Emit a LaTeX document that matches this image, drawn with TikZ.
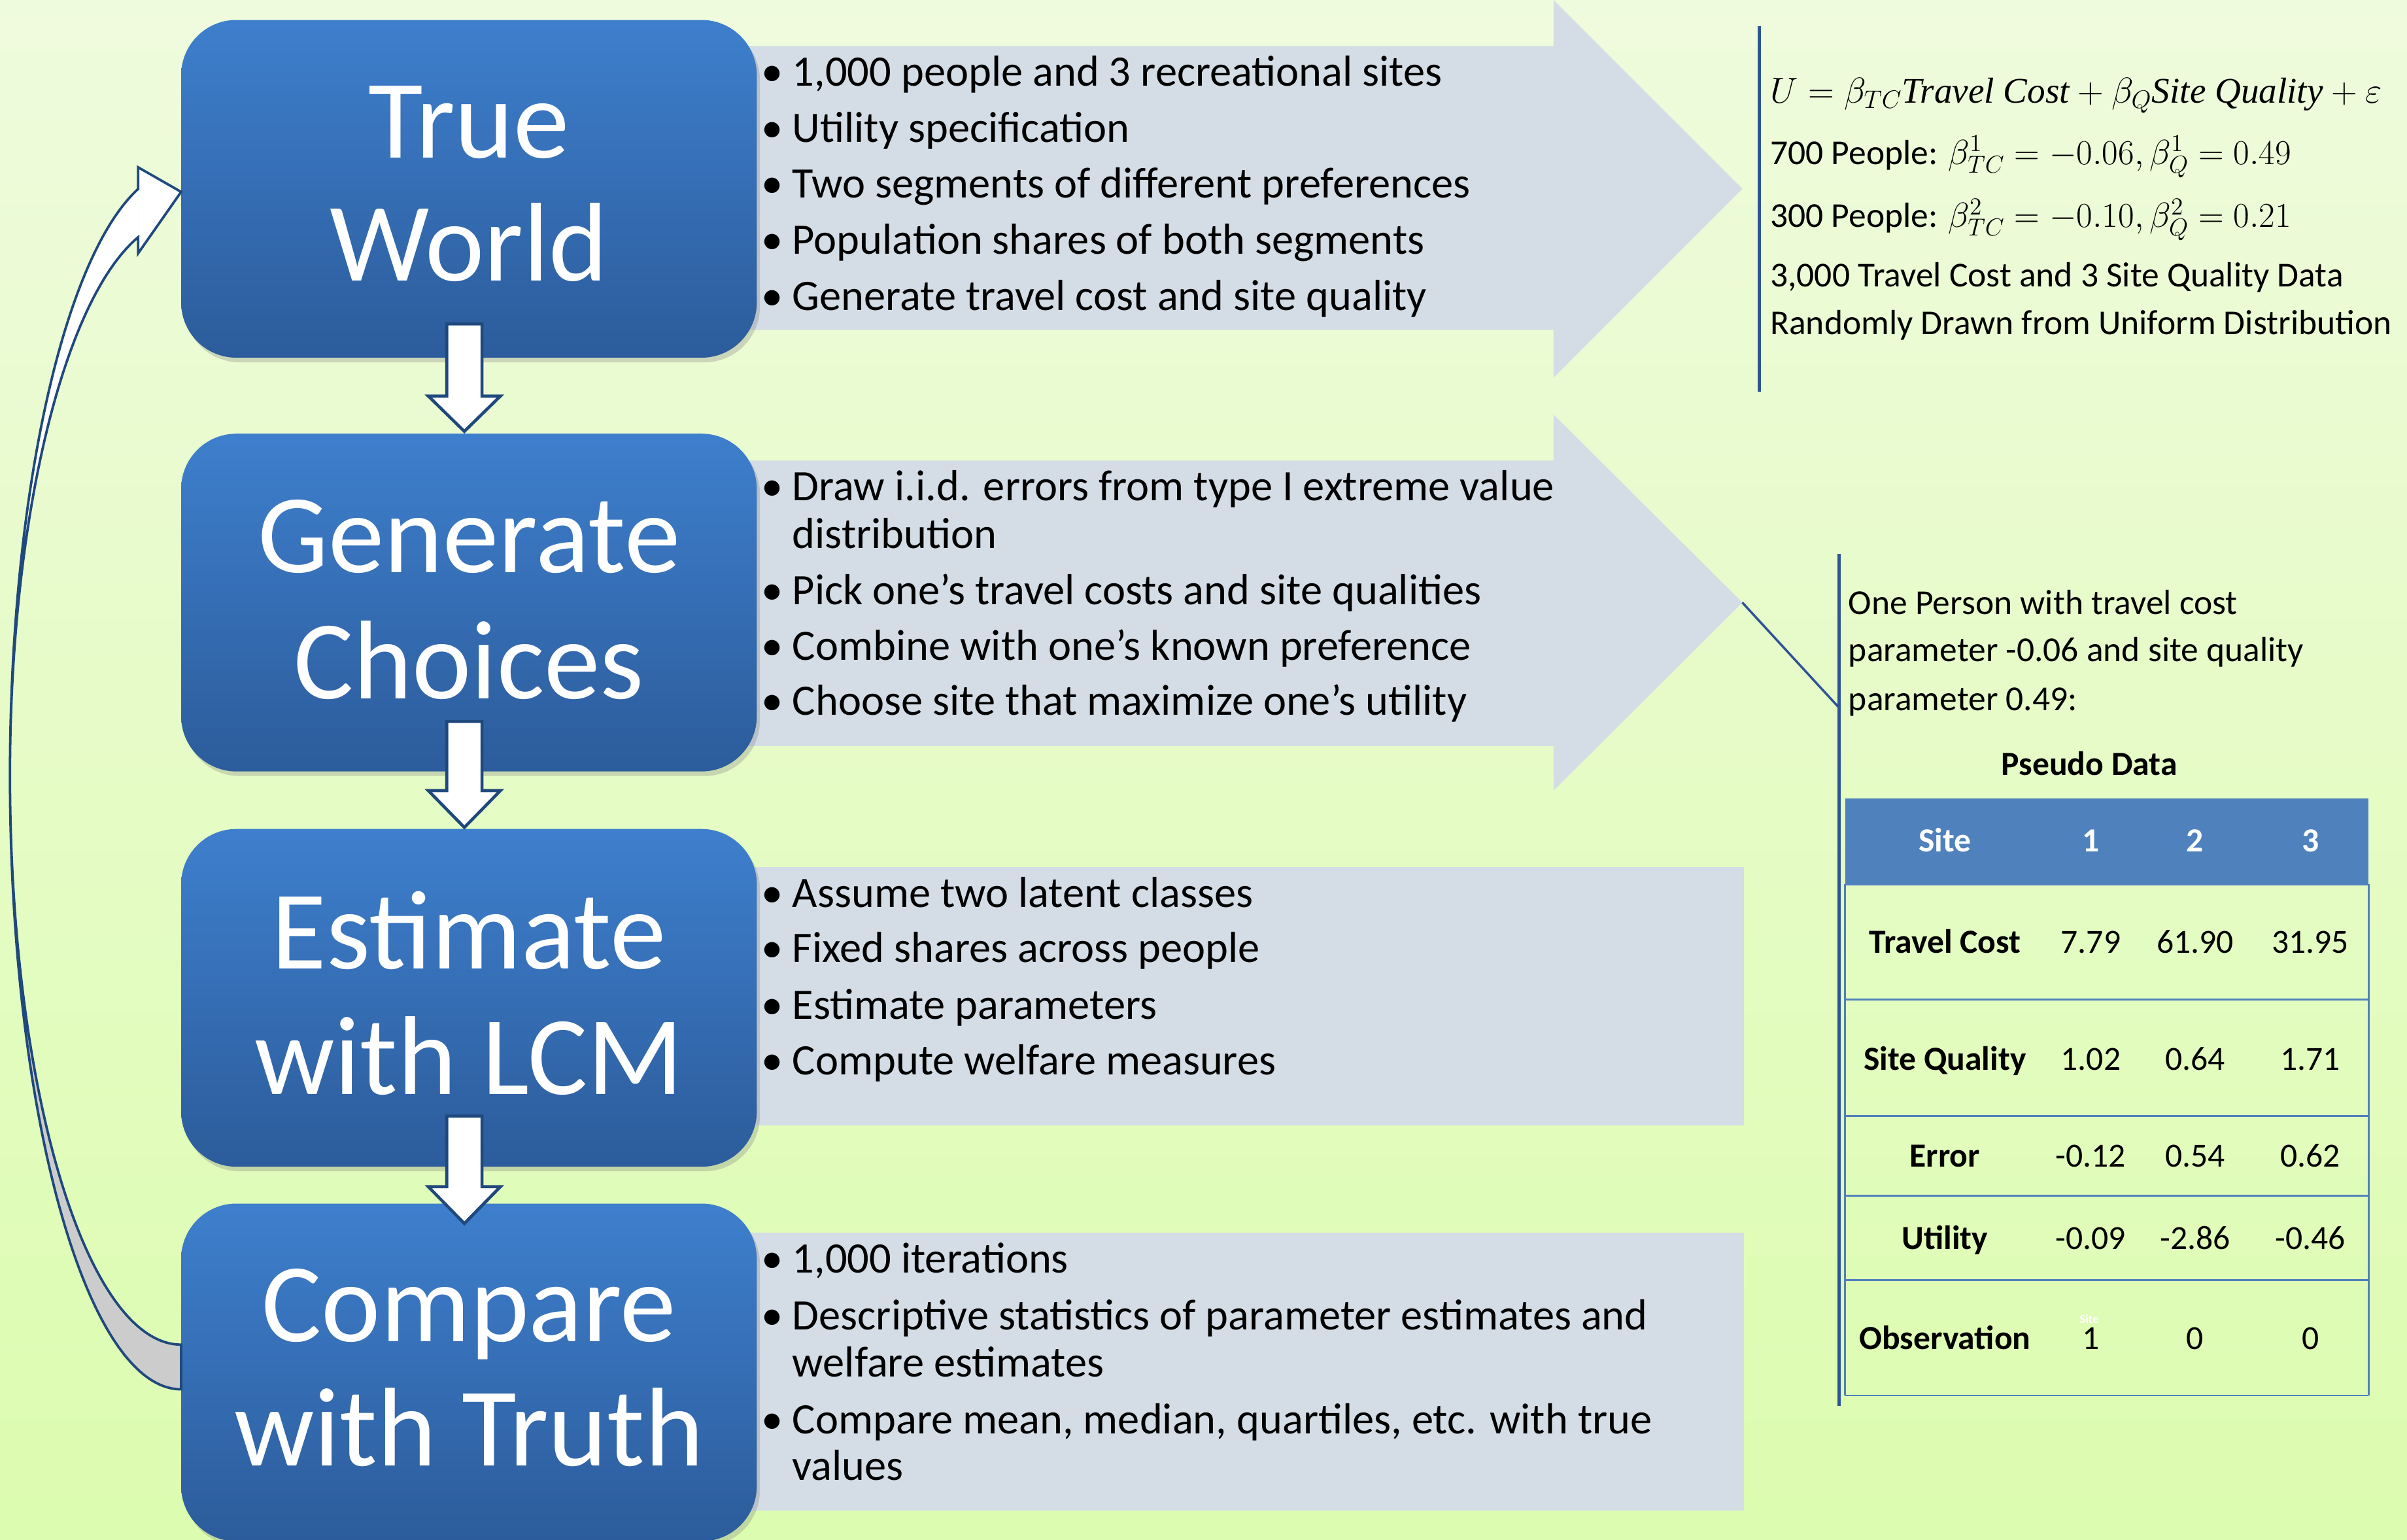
\RequirePackage{fix-cm}
\documentclass[tikz,border=0pt]{standalone}
\usepackage{fontspec}
\setmainfont{Carlito}
\newfontfamily\formulaserif{Liberation Serif}
\usetikzlibrary{shadows}

\definecolor{bgtop}{RGB}{239,251,221}
\definecolor{bgbot}{RGB}{220,252,175}
\definecolor{boxtop}{RGB}{62,127,205}
\definecolor{boxbot}{RGB}{44,92,155}
\definecolor{panel}{RGB}{212,220,229}
\definecolor{edge}{RGB}{31,73,125}
\definecolor{rulecol}{RGB}{46,84,150}
\definecolor{tblue}{RGB}{79,129,189}
\definecolor{ribbon}{RGB}{204,204,204}

% white block arrow pointing down: shaft top, head start, tip
\newcommand\stagearrow[3]{%
  \draw[blockarrow] (291,#1) -- (314,#1) -- (314,#2) -- (326,#2) -- (302.5,#3)
    -- (279,#2) -- (291,#2) -- cycle;}
% italic words inside the utility formula
\newcommand\fword[1]{\mbox{\formulaserif\itshape #1}}

\begin{document}
\begin{tikzpicture}[x=1pt,y=-1pt,
  stage/.style={rectangle, rounded corners=36pt, minimum width=375pt,
    minimum height=220pt, inner sep=0pt, top color=boxtop, bottom color=boxbot,
    drop shadow={shadow xshift=2pt, shadow yshift=-3pt, opacity=0.3}},
  stagetext/.style={text=white, font=\fontsize{73}{80}\selectfont, inner sep=0pt, anchor=base},
  bul/.style={font=\fontsize{28.3}{34}\selectfont, inner sep=0pt, anchor=base west},
  note/.style={font=\fontsize{22.8}{27}\selectfont, inner sep=0pt, anchor=base west},
  cell/.style={font=\fontsize{22}{26}\selectfont, inner sep=0pt, anchor=base},
  bcell/.style={font=\fontsize{22}{26}\selectfont\bfseries, inner sep=0pt, anchor=base},
  hcell/.style={bcell, text=white},
  blockarrow/.style={fill=white, draw=edge, line width=2pt, line join=miter},
  grid/.style={draw=tblue, line width=1.2pt},
]
\useasboundingbox (0,0) rectangle (1568,1003);
\shade[top color=bgtop, bottom color=bgbot] (0,0) rectangle (1568,1003);

% bullet panels
\fill[panel] (480,30) -- (1012,30) -- (1012,0) -- (1135,123) -- (1012,246)
  -- (1012,215) -- (480,215) -- cycle;
\fill[panel] (480,300) -- (1012,300) -- (1012,270) -- (1135,392.5) -- (1012,515)
  -- (1012,486) -- (480,486) -- cycle;
\fill[panel] (480,565) rectangle (1136,733);
\fill[panel] (480,803) rectangle (1136,984);

% stage boxes
\node[stage] (tw) at (305.5,123) {};
\node[stage] (gc) at (305.5,392.5) {};
\node[stage] (el) at (305.5,650) {};
\node[stage] (ct) at (305.5,894) {};

\node[stagetext] (tw1) at (305.5,103) {True};
\node[stagetext] (tw2) at (305.5,183) {World};
\node[stagetext] (gc1) at (305.5,373) {Generate};
\node[stagetext] (gc2) at (305.5,455) {Choices};
\node[stagetext] (el1) at (305.5,631) {Estimate};
\node[stagetext] (el2) at (305.5,713) {with LCM};
\node[stagetext] (ct1) at (305.5,874) {Compare};
\node[stagetext] (ct2) at (305.5,955) {with Truth};

% arrows between stages
\stagearrow{211}{258}{281}
\stagearrow{470}{515}{539}
\stagearrow{727}{773}{797}

% curved feedback arrow
\fill[white] (90,123) arc[start angle=255.46, end angle=180, x radius=111.5, y radius=394.6]
  arc[start angle=180, end angle=255.46, x radius=111.5, y radius=362] -- cycle;
\fill[ribbon] (6.5,505) arc[start angle=180, end angle=90, x radius=111.5, y radius=400]
  -- (118,876) arc[start angle=90, end angle=180, x radius=111.5, y radius=371] -- cycle;
\fill[white] (90,109) -- (118,125) -- (90,165) -- cycle;
\draw[edge, line width=1.6pt, line join=miter]
  (118,905) arc[start angle=90, end angle=180, x radius=111.5, y radius=400]
  arc[start angle=180, end angle=255.46, x radius=111.5, y radius=394.6]
  -- (90,109) -- (118,125) -- (90,165) -- (90,154.5)
  arc[start angle=255.46, end angle=180, x radius=111.5, y radius=362]
  arc[start angle=180, end angle=90, x radius=111.5, y radius=371] -- cycle;

% bullet lists
\foreach \y/\t [count=\i] in {56/{1,000 people and 3 recreational sites},
  92.5/{Utility specification},
  129/{Two segments of different preferences},
  165.5/{Population shares of both segments},
  202/{Generate travel cost and site quality}} {
  \node[bul] (ba\i) at (496,\y) {•};
  \node[bul] (ta\i) at (516,\y) {\t};
}
\foreach \y/\t [count=\i] in {326/{Draw i.i.d. errors from type I extreme value},
  394/{Pick one’s travel costs and site qualities},
  430/{Combine with one’s known preference},
  466/{Choose site that maximize one’s utility}} {
  \node[bul] (bb\i) at (496,\y) {•};
  \node[bul] (tb\i) at (516,\y) {\t};
}
\node[bul] (tb1x) at (516,357) {distribution};
\foreach \y/\t [count=\i] in {591/{Assume two latent classes},
  627/{Fixed shares across people},
  664/{Estimate parameters},
  700/{Compute welfare measures}} {
  \node[bul] (bc\i) at (496,\y) {•};
  \node[bul] (tc\i) at (516,\y) {\t};
}
\foreach \y/\t [count=\i] in {829/{1,000 iterations},
  866/{Descriptive statistics of parameter estimates and},
  934/{Compare mean, median, quartiles, etc. with true}} {
  \node[bul] (bd\i) at (496,\y) {•};
  \node[bul] (td\i) at (516,\y) {\t};
}
\node[bul] (td2x) at (516,897) {welfare estimates};
\node[bul] (td3x) at (516,964) {values};

% model specification
\draw[rulecol, line width=2pt] (1146,17) -- (1146,255);
\node[note, font=\fontsize{23.5}{27}\selectfont] (eq) at (1153,67)
  {$U=\beta_{TC}\fword{Travel Cost}+\beta_{Q}\fword{Site Quality}+\varepsilon$};
\node[note] (pop1) at (1153,107) {700 People: $\beta^{1}_{TC}=-0.06,\beta^{1}_{Q}=0.49$};
\node[note] (pop2) at (1153,148) {300 People: $\beta^{2}_{TC}=-0.10,\beta^{2}_{Q}=0.21$};
\node[note] (gen1) at (1153,187) {3,000 Travel Cost and 3 Site Quality Data};
\node[note] (gen2) at (1153,218) {Randomly Drawn from Uniform Distribution};

% one-person example
\coordinate (tip2) at (1135,392.5);
\coordinate (callout) at (1198,461);
\draw[rulecol, line width=1.8pt] (1198,361) -- (1198,916);
\draw[rulecol, line width=1.5pt] (tip2) -- (callout);
\node[note] (op1) at (1204,400) {One Person with travel cost};
\node[note] (op2) at (1204,431) {parameter -0.06 and site quality};
\node[note] (op3) at (1204,463) {parameter 0.49:};
\node[bcell] (pd) at (1361,505) {Pseudo Data};

% pseudo data table
\fill[tblue] (1202,520) rectangle (1543,576);
\foreach \y in {576,651,727,779,834,909} \draw[grid] (1202,\y) -- (1543,\y);
\draw[grid] (1202,576) -- (1202,909);
\draw[grid] (1543,576) -- (1543,909);

\node[hcell] (hs) at (1267,555) {Site};
\node[hcell] (h1) at (1362,555) {1};
\node[hcell] (h2) at (1430,555) {2};
\node[hcell] (h3) at (1505,555) {3};

\foreach \y/\lab/\a/\b/\c [count=\i] in {621/Travel Cost/7.79/61.90/31.95,
  697/Site Quality/1.02/0.64/1.71,
  760/Error/-0.12/0.54/0.62,
  814/Utility/-0.09/-2.86/-0.46,
  879/Observation/1/0/0} {
  \node[bcell] (r\i) at (1267,\y) {\lab};
  \node[cell] (r\i a) at (1362,\y) {\a};
  \node[cell] (r\i b) at (1430,\y) {\b};
  \node[cell] (r\i c) at (1505,\y) {\c};
}
\node[font=\fontsize{8}{9}\selectfont\bfseries, text=white, inner sep=0pt] (ghost) at (1361,859) {Site};
\end{tikzpicture}
\end{document}
